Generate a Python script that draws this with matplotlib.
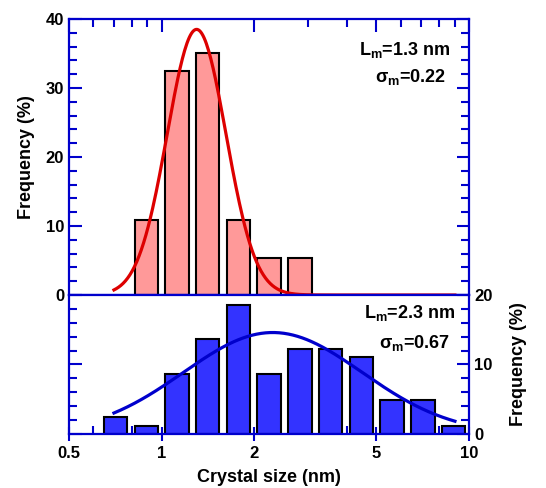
import numpy as np
import matplotlib.pyplot as plt
from matplotlib.ticker import FixedLocator, NullFormatter

plt.rcParams['font.family'] = ['Liberation Sans', 'DejaVu Sans']
plt.rcParams['font.weight'] = 'bold'
plt.rcParams['mathtext.fontset'] = 'custom'
plt.rcParams['mathtext.rm'] = 'Liberation Sans:bold'
plt.rcParams['mathtext.bf'] = 'Liberation Sans:bold'

# bin centres (log10 of size in nm) and frequencies (%)
top_logc = [-0.05, 0.05, 0.15, 0.25, 0.35, 0.45]
top_freq = [10.8, 32.4, 35.1, 10.8, 5.4, 5.4]
bot_logc = [-0.15, -0.05, 0.05, 0.15, 0.25, 0.35, 0.45, 0.55, 0.65, 0.75, 0.85, 0.95]
bot_freq = [2.5, 1.2, 8.6, 13.6, 18.5, 8.6, 12.3, 12.3, 11.1, 4.9, 4.9, 1.2]

# log-normal fit parameters shown on the chart
top_Lm, top_sig, top_amp = 1.3, 0.22, 38.5
bot_Lm, bot_sig, bot_amp = 2.3, 0.67, 14.6

blue = '#0000CC'
half_w = 0.038

fig = plt.figure(figsize=(5.46, 4.88), dpi=100)
ax1 = fig.add_axes([0.1264, 0.3955, 0.7326, 0.5655])
ax2 = fig.add_axes([0.1264, 0.1107, 0.7326, 0.2848], sharex=ax1)

def bars(ax, logc, freq, color):
    c = np.array(logc)
    left = 10 ** (c - half_w)
    right = 10 ** (c + half_w)
    ax.bar(left, freq, width=right - left, align='edge', color=color,
           edgecolor='black', linewidth=1.5, zorder=2)

def fit(ax, Lm, sig, amp, color):
    x = np.logspace(np.log10(0.7), np.log10(9.0), 300)
    y = amp * np.exp(-np.log(x / Lm) ** 2 / (2 * sig ** 2))
    ax.plot(x, y, color=color, lw=2.3, zorder=3)

bars(ax1, top_logc, top_freq, '#FF9999')
fit(ax1, top_Lm, top_sig, top_amp, '#DD0000')
bars(ax2, bot_logc, bot_freq, '#3333FF')
fit(ax2, bot_Lm, bot_sig, bot_amp, '#0000CC')

ax1.set_xscale('log')
ax1.set_xlim(0.5, 10)
ax1.set_ylim(0, 40)
ax2.set_ylim(0, 20)

for ax in (ax1, ax2):
    for s in ax.spines.values():
        s.set_color(blue)
        s.set_linewidth(1.6)
        s.set_zorder(4)
    ax.tick_params(which='both', colors=blue, labelcolor='black', width=1.5,
                   direction='in', labelsize=12)
    ax.tick_params(which='major', length=9)
    ax.tick_params(which='minor', length=5.5)

ax1.xaxis.set_major_locator(FixedLocator([0.5, 1, 2, 5, 10]))
ax1.xaxis.set_minor_locator(FixedLocator([0.6, 0.7, 0.8, 0.9, 3, 4, 6, 7, 8, 9]))
ax1.xaxis.set_minor_formatter(NullFormatter())
ax2.set_xticks([0.5, 1, 2, 5, 10])
ax2.set_xticklabels(['0.5', '1', '2', '5', '10'])

ax1.set_yticks([0, 10, 20, 30, 40])
ax1.yaxis.set_minor_locator(FixedLocator(np.arange(0, 41, 2)))
ax1.tick_params(axis='x', which='both', top=True, bottom=False, labelbottom=False)
ax1.tick_params(axis='y', which='both', left=True, right=True)

ax2.set_yticks([0, 10, 20])
ax2.yaxis.set_minor_locator(FixedLocator(np.arange(0, 21, 2)))
ax2.tick_params(axis='x', which='both', top=False, bottom=True)
ax2.tick_params(axis='x', which='major', direction='inout', length=10)
ax2.tick_params(axis='y', which='both', left=True, right=True,
                labelleft=False, labelright=True)

ax1.set_ylabel('Frequency (%)', fontsize=13, fontweight='bold', labelpad=8)
ax2.yaxis.set_label_position('right')
ax2.set_ylabel('Frequency (%)', fontsize=13, fontweight='bold', labelpad=13)
ax2.set_xlabel('Crystal size (nm)', fontsize=13, fontweight='bold', labelpad=6)

ax1.text(0.953, 0.888, r'L$_{\mathbf{m}}$=1.3 nm', transform=ax1.transAxes,
         ha='right', va='center', fontsize=13, fontweight='bold')
ax1.text(0.943, 0.79, r'σ$_{\mathbf{m}}$=0.22', transform=ax1.transAxes,
         ha='right', va='center', fontsize=13, fontweight='bold')
ax2.text(0.965, 0.87, r'L$_{\mathbf{m}}$=2.3 nm', transform=ax2.transAxes,
         ha='right', va='center', fontsize=13, fontweight='bold')
ax2.text(0.953, 0.655, r'σ$_{\mathbf{m}}$=0.67', transform=ax2.transAxes,
         ha='right', va='center', fontsize=13, fontweight='bold')

fig.savefig('out.png', dpi=100)
